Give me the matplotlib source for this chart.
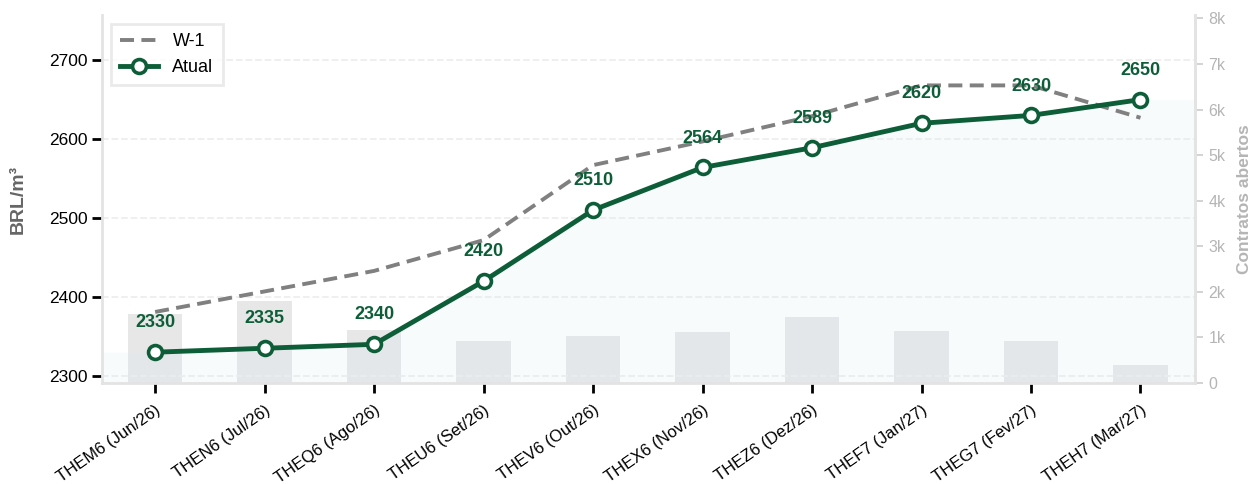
import matplotlib
matplotlib.use('Agg')
import matplotlib.pyplot as plt
from matplotlib.ticker import FuncFormatter

plt.rcParams['font.family'] = ['Liberation Sans', 'DejaVu Sans']

contracts = ['THEM6 (Jun/26)', 'THEN6 (Jul/26)', 'THEQ6 (Ago/26)', 'THEU6 (Set/26)',
             'THEV6 (Out/26)', 'THEX6 (Nov/26)', 'THEZ6 (Dez/26)', 'THEF7 (Jan/27)',
             'THEG7 (Fev/27)', 'THEH7 (Mar/27)']
atual = [2330, 2335, 2340, 2420, 2510, 2564, 2589, 2620, 2630, 2650]
w_1 = [2381, 2407, 2433, 2472, 2567, 2597, 2629, 2668, 2668, 2627]
open_interest = [1520, 1800, 1170, 930, 1030, 1110, 1450, 1150, 930, 400]

GREEN = '#0d5e38'

fig = plt.figure(figsize=(12.58, 4.84), dpi=100)
ax = fig.add_axes([0.0811, 0.2087, 0.869, 0.760])
ax2 = ax.twinx()
ax.set_zorder(ax2.get_zorder() + 1)
ax.patch.set_visible(False)

x = list(range(len(contracts)))

# open interest bars (right axis)
ax2.bar(x, open_interest, width=0.5, color='#e7e7e7', zorder=1)
ax2.set_ylim(0, 8070)
ax2.yaxis.set_major_formatter(FuncFormatter(lambda v, _: '0' if v == 0 else f'{v/1000:.0f}k'))
ax2.tick_params(axis='y', colors='#cccccc', labelcolor='#b5b5b5', labelsize=11.5, length=6, width=1.2)
ax2.set_ylabel('Contratos abertos', color='#b5b5b5', fontsize=12.5, fontweight='bold', labelpad=8)

# light fill under current curve
fx = [x[0] - 0.5] + x + [x[-1] + 0.5]
fy = [atual[0]] + atual + [atual[-1]]
ax.fill_between(fx, fy, 2200, color='#d8ecf3', alpha=0.2, linewidth=0, zorder=1)

ax.plot(x, w_1, '--', color='#808080', linewidth=2.8, dashes=(3.6, 1.9), label='W-1', zorder=3)
ax.plot(x, atual, '-o', color=GREEN, linewidth=3.5, markersize=10,
        markerfacecolor='white', markeredgecolor=GREEN, markeredgewidth=2.6,
        label='Atual', zorder=4)

for xi, v in zip(x, atual):
    ax.annotate(f'{v}', (xi, v), textcoords='offset points', xytext=(0, 15),
                ha='center', va='bottom', color=GREEN, fontsize=13, fontweight='bold', zorder=5)

ax.set_xlim(-0.485, 9.5)
ax.set_ylim(2291, 2757)
ax.set_yticks([2300, 2400, 2500, 2600, 2700])
ax.set_xticks(x)
ax.set_xticklabels(contracts, rotation=35, ha='right', rotation_mode='anchor', fontsize=12)
ax.tick_params(axis='y', labelsize=12.5, length=7, width=2, colors='black')
ax.tick_params(axis='x', length=7, width=2, colors='black', pad=7)
ax.set_ylabel('BRL/m³', color='#666666', fontsize=14, fontweight='bold', labelpad=16)
ax.grid(True, axis='y', color='#eeeeee', linestyle='--', linewidth=1.3)
ax.set_axisbelow(True)

for a in (ax, ax2):
    a.spines['top'].set_visible(False)
    for s in ('left', 'right', 'bottom'):
        a.spines[s].set_color('#e3e3e3')
        a.spines[s].set_linewidth(2)
ax2.spines['left'].set_visible(False)
ax2.spines['bottom'].set_visible(False)

leg = ax.legend(loc='upper left', fontsize=13, frameon=True, fancybox=False,
                handlelength=2.1, borderpad=0.5, borderaxespad=0.5)
leg.get_frame().set_edgecolor('#e5e5e5')
leg.get_frame().set_linewidth(2)

fig.savefig('out.png', dpi=100)
